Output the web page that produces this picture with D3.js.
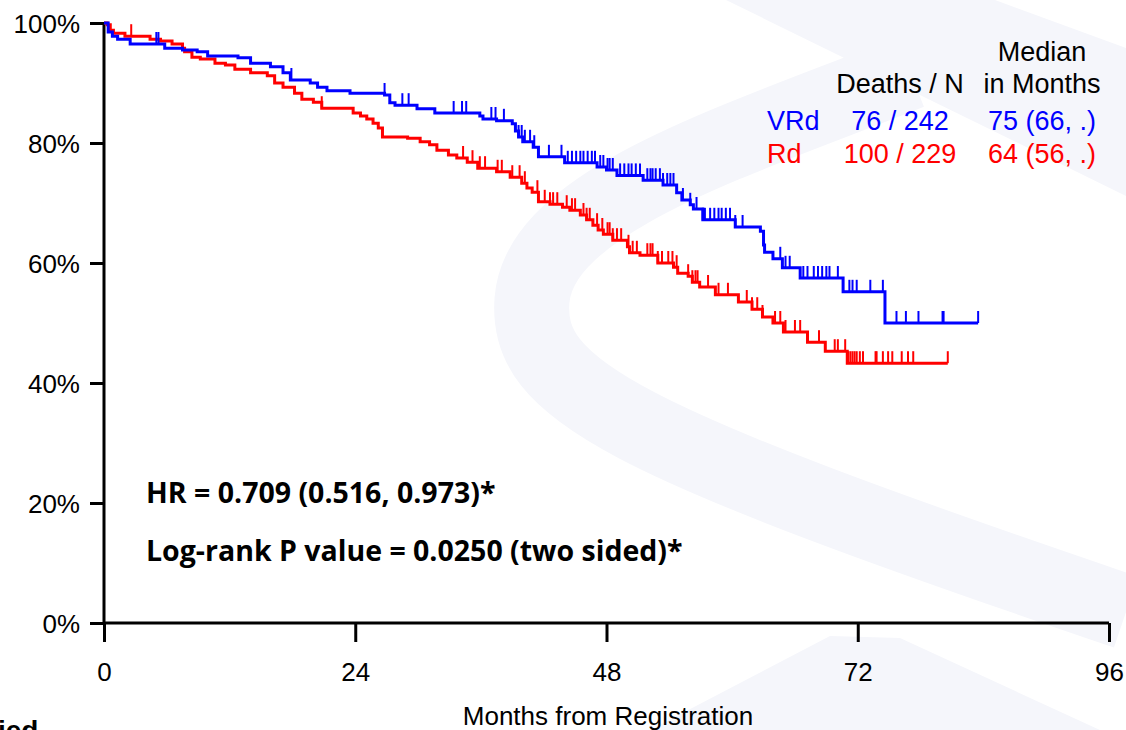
<!DOCTYPE html>
<html>
<head>
<meta charset="utf-8">
<script src="https://cdn.jsdelivr.net/npm/d3@7/dist/d3.min.js"></script>
<style>
  body { margin: 0; background: #fff; }
  svg { display: block; font-family: "Liberation Sans", Arial, Helvetica, sans-serif; }
</style>
</head>
<body>
<svg id="chart" width="1126" height="730"></svg>
<script>
// axis ticks
var xMajor = [0, 24, 48, 72, 96];
var xMinor = [6, 12, 18, 30, 36, 42, 54, 60, 66, 78, 84, 90];
var yMajor = [0, 20, 40, 60, 80, 100];
var yMinor = [10, 30, 50, 70, 90];

// VRd: event times (months) and survival (%) after each drop
var vrdTimes = [0.4, 0.8, 1.3, 2.5, 5.8, 7.5, 8.9, 9.9, 12.8, 14.0, 15.9, 17.1, 17.8, 19.7, 20.4, 21.3, 23.5, 26.8, 27.3, 27.8,
  29.9, 31.6, 35.9, 36.2, 37.5, 39.0, 39.3, 39.6, 40.0, 41.0, 41.5, 44.0, 47.1, 48.0, 49.0, 51.5, 53.4, 54.7, 55.2, 56.0,
  56.3, 57.2, 60.3, 62.7, 63.0, 63.1, 63.9, 64.8, 66.5, 70.6, 74.6];
var vrdSurv = [98.5, 97.8, 97.3, 96.5, 95.8, 95.5, 95.2, 94.5, 94.2, 93.3, 92.7, 91.7, 90.5, 90.0, 89.3, 88.7, 88.3, 88.0, 86.7, 86.3,
  85.7, 85.0, 84.5, 84.0, 83.7, 83.2, 82.0, 81.0, 80.2, 79.3, 77.7, 76.7, 76.0, 75.5, 74.6, 73.8, 73.0, 71.7, 70.5, 69.7,
  69.0, 67.2, 66.0, 65.3, 63.0, 61.8, 60.7, 59.2, 57.5, 55.2, 50.0];
var vrdCensor = [5.0, 5.2, 17.9, 26.8, 28.5, 29.1, 33.4, 34.2, 34.6, 37.0, 37.4, 38.2, 39.6, 39.9, 40.2, 40.7, 41.1, 42.5, 43.7, 44.3,
  44.7, 45.1, 45.5, 45.8, 46.2, 46.6, 46.9, 47.4, 47.7, 48.1, 48.3, 48.6, 49.3, 49.7, 50.1, 50.4, 50.8, 51.2, 51.9, 52.2,
  52.4, 52.7, 53.1, 53.4, 53.8, 54.1, 54.4, 55.3, 56.0, 56.6, 57.2, 57.4, 57.9, 58.3, 58.7, 59.0, 59.4, 59.8, 60.3, 61.0,
  64.6, 65.1, 65.5, 66.8, 67.2, 67.8, 68.2, 68.6, 69.0, 69.3, 70.1, 71.2, 71.5, 71.9, 73.2, 74.4, 75.7, 76.6, 77.8, 80.1,
  80.2, 83.5];
var vrdEnd = 83.5;

// Rd
var rdTimes = [0.3, 0.6, 0.9, 2.0, 4.4, 5.4, 6.5, 7.5, 7.7, 8.4, 9.2, 10.6, 11.6, 12.5, 14.0, 15.6, 16.3, 17.1, 18.2, 18.9,
  20.0, 20.8, 23.8, 24.5, 25.1, 25.7, 26.2, 26.6, 29.0, 30.2, 31.1, 31.8, 32.9, 33.7, 34.7, 35.7, 37.5, 38.8, 39.9, 40.4,
  40.9, 41.5, 42.6, 43.8, 44.5, 45.5, 46.1, 46.7, 47.2, 47.7, 48.6, 50.0, 50.2, 51.2, 52.9, 54.4, 54.8, 55.8, 56.2, 56.9,
  58.4, 60.6, 61.9, 62.9, 63.9, 64.9, 67.2, 68.9, 71.0];
var rdSurv = [99.7, 98.8, 98.3, 97.8, 97.3, 97.0, 96.5, 95.8, 95.2, 94.3, 94.0, 93.3, 93.0, 92.3, 91.7, 91.2, 90.0, 89.3, 88.3, 87.3,
  86.8, 85.8, 85.0, 84.5, 84.0, 83.3, 82.5, 81.0, 80.8, 80.2, 79.7, 78.8, 78.0, 77.5, 76.8, 75.8, 75.2, 74.3, 73.3, 72.5,
  71.8, 70.2, 69.8, 69.3, 68.8, 68.0, 67.2, 66.3, 65.5, 64.8, 63.8, 62.7, 61.7, 61.3, 60.0, 59.3, 58.3, 57.8, 56.8, 56.0,
  54.7, 53.5, 52.3, 51.0, 50.0, 48.5, 46.8, 45.3, 43.3];
var rdCensor = [2.6, 20.8, 34.3, 35.2, 35.9, 36.4, 37.6, 38.0, 39.0, 39.7, 40.2, 41.4, 42.1, 42.6, 42.9, 43.3, 44.2, 44.7, 45.0, 45.8,
  46.1, 46.4, 47.1, 47.6, 48.1, 48.3, 48.6, 49.0, 49.4, 50.1, 50.5, 50.9, 51.9, 52.2, 52.4, 52.9, 53.3, 53.9, 54.3, 54.7,
  55.8, 56.2, 56.5, 56.7, 57.7, 58.7, 59.6, 61.4, 61.9, 62.4, 62.9, 64.1, 64.6, 65.1, 66.0, 66.5, 68.3, 69.8, 70.1, 70.8,
  71.1, 71.3, 71.5, 71.7, 71.9, 72.2, 72.5, 73.7, 73.8, 74.4, 74.9, 75.3, 76.2, 76.8, 77.3, 80.6];
var rdEnd = 80.6;

// legend table
var legendHead1 = ["", "", "Median"];
var legendHead2 = ["", "Deaths / N", "in Months"];
var armNames = ["VRd", "Rd"];
var armDeaths = ["76 / 242", "100 / 229"];
var armMedians = ["75 (66, .)", "64 (56, .)"];
var armColors = ["#0000ff", "#ff0000"];

var statLines = ["HR = 0.709 (0.516, 0.973)*", "Log-rank P value = 0.0250 (two sided)*"];

var svg = d3.select("#chart");

// faint watermark behind the plot
var wm = svg.append("g").attr("fill", "#f5f6fb").attr("stroke", "none");
wm.append("path").attr("d", "M726,0 L995,0 L1126,48 L1126,196 Z");
wm.append("path").attr("d", "M910,72 C740,140 540,200 532,300 C525,390 620,440 1126,612")
  .attr("fill", "none").attr("stroke", "#f5f6fb").attr("stroke-width", 75);
wm.append("path").attr("d", "M650,730 L830,636 L900,638 L1126,742 Z");

var x = d3.scaleLinear().domain([0, 96]).range([104, 1109]);
var y = d3.scaleLinear().domain([0, 100]).range([623, 23]);

// axes
var xAxisG = svg.append("g").attr("transform", "translate(0,623)");
xAxisG.call(d3.axisBottom(x).tickValues(xMinor).tickSize(11).tickFormat(""));
xAxisG.call(d3.axisBottom(x).tickValues(xMajor).tickSize(19).tickPadding(21).tickFormat(d3.format("d")));

var yAxisG = svg.append("g").attr("transform", "translate(104,0)");
yAxisG.call(d3.axisLeft(y).tickValues(yMinor).tickSize(8).tickFormat(""));
yAxisG.call(d3.axisLeft(y).tickValues(yMajor).tickSize(14).tickPadding(10).tickFormat(function(d) { return d + "%"; }));

svg.selectAll(".domain").remove();
svg.selectAll(".tick line").attr("stroke", "#000").attr("stroke-width", 3);
svg.selectAll(".tick text").attr("fill", "#000").style("font-size", "26px")
  .style("font-family", "'Liberation Sans', Arial, sans-serif");
yAxisG.selectAll(".tick text").attr("dy", "0.36em");

svg.append("line").attr("x1", x(0)).attr("x2", x(96)).attr("y1", y(0)).attr("y2", y(0))
  .attr("stroke", "#000").attr("stroke-width", 3);
svg.append("line").attr("x1", x(0)).attr("x2", x(0)).attr("y1", y(100)).attr("y2", y(0))
  .attr("stroke", "#000").attr("stroke-width", 3);

svg.append("text").attr("x", 608).attr("y", 725).attr("text-anchor", "middle")
  .style("font-size", "26px").text("Months from Registration");

// step curves
function stepPoints(times, surv, end) {
  var pts = [[0, 100]];
  times.forEach(function(t, i) { pts.push([t, surv[i]]); });
  pts.push([end, surv[surv.length - 1]]);
  return pts;
}
function survAt(times, surv, t) {
  var s = 100;
  for (var i = 0; i < times.length; i++) { if (times[i] <= t) s = surv[i]; }
  return s;
}

var line = d3.line()
  .x(function(d) { return x(d[0]); })
  .y(function(d) { return y(d[1]); })
  .curve(d3.curveStepAfter);

var arms = [
  { times: vrdTimes, surv: vrdSurv, censor: vrdCensor, end: vrdEnd, color: armColors[0] },
  { times: rdTimes, surv: rdSurv, censor: rdCensor, end: rdEnd, color: armColors[1] }
];

// draw Rd first so VRd sits on top where they overlap early
arms.slice().reverse().forEach(function(a) {
  svg.append("path").datum(stepPoints(a.times, a.surv, a.end))
    .attr("d", line).attr("fill", "none").attr("stroke", a.color).attr("stroke-width", 3);
  svg.append("g").selectAll("line").data(a.censor).enter().append("line")
    .attr("x1", function(d) { return x(d); }).attr("x2", function(d) { return x(d); })
    .attr("y1", function(d) { return y(survAt(a.times, a.surv, d)); })
    .attr("y2", function(d) { return y(survAt(a.times, a.surv, d)) - 12; })
    .attr("stroke", a.color).attr("stroke-width", 2);
});

// legend table
var colX = [767, 900, 1042];
var lg = svg.append("g").style("font-size", "27px");
legendHead1.forEach(function(t, i) {
  if (t) lg.append("text").attr("x", colX[i]).attr("y", 61).attr("text-anchor", "middle").text(t);
});
legendHead2.forEach(function(t, i) {
  if (t) lg.append("text").attr("x", colX[i]).attr("y", 93).attr("text-anchor", "middle").text(t);
});
armNames.forEach(function(n, i) {
  var yy = 130 + i * 33;
  lg.append("text").attr("x", colX[0]).attr("y", yy).attr("fill", armColors[i]).text(n);
  lg.append("text").attr("x", colX[1]).attr("y", yy).attr("text-anchor", "middle").attr("fill", armColors[i]).text(armDeaths[i]);
  lg.append("text").attr("x", colX[2]).attr("y", yy).attr("text-anchor", "middle").attr("fill", armColors[i]).text(armMedians[i]);
});

// hazard ratio text
statLines.forEach(function(t, i) {
  svg.append("text").attr("x", 146).attr("y", 503 + i * 58)
    .style("font-family", "'Open Sans', sans-serif").style("font-weight", "bold").style("font-size", "28.5px")
    .text(t);
});

// clipped slide text at bottom left
svg.append("text").attr("x", -2).attr("y", 740).style("font-weight", "bold").style("font-size", "28px").text("ied");
</script>
</body>
</html>
